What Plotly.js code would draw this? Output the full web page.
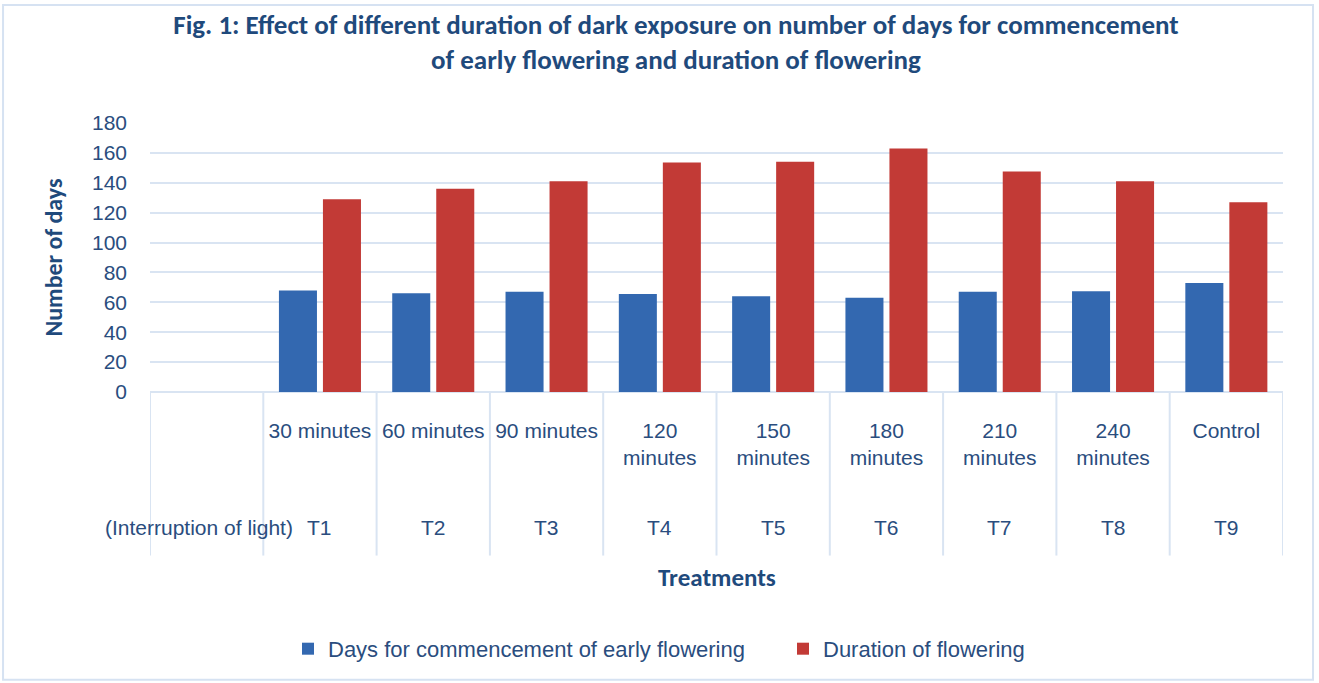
<!DOCTYPE html>
<html>
<head>
<meta charset="utf-8">
<script src="https://cdn.plot.ly/plotly-3.0.1.min.js"></script>
<style>html,body{margin:0;padding:0;background:#fff;}#chart{width:1319px;height:683px;}</style>
</head>
<body>
<div id="chart"></div>
<script>
// Data
var categories = ["", "T1", "T2", "T3", "T4", "T5", "T6", "T7", "T8", "T9"];
var innerLabels = ["", "30 minutes", "60 minutes", "90 minutes", "120<br>minutes", "150<br>minutes", "180<br>minutes", "210<br>minutes", "240<br>minutes", "Control"];
var outerLabels = ["(Interruption of light)", "T1", "T2", "T3", "T4", "T5", "T6", "T7", "T8", "T9"];
var earlyFlowering = [null, 68, 66, 67, 65.5, 64, 63, 67, 67.5, 73];
var durationFlowering = [null, 129, 136, 141, 153.5, 154, 163, 147.5, 141, 127];
var seriesNames = ["Days for commencement of early flowering", "Duration of flowering"];
var yTicks = [0, 20, 40, 60, 80, 100, 120, 140, 160, 180];

var FONT = "'Liberation Sans', Arial, sans-serif";
var BFONT = "Carlito, Lato, sans-serif";
var TXT = "#2a4d7e";
var TTL = "#1f4a7c";
var GRID = "#d9e4f2";

var xIdx = categories.map(function(c, i){ return i; });

var traces = [
  {type: "bar", name: seriesNames[0], x: xIdx, y: earlyFlowering,
   marker: {color: "#3368b0"}},
  {type: "bar", name: seriesNames[1], x: xIdx, y: durationFlowering,
   marker: {color: "#c23a36"}}
];

var annotations = outerLabels.map(function(t, i){
  return {text: t, x: i, xref: "x", y: -0.505, yref: "paper", yanchor: "middle",
          xshift: (i === 0 ? -8 : 0),
          showarrow: false, font: {family: FONT, size: 21, color: TXT}};
});
annotations.push({text: "Treatments", x: 0.5, xref: "paper", y: -0.688, yref: "paper",
  yanchor: "middle", showarrow: false, font: {family: BFONT, size: 25, color: TTL, weight: "bold"}});

var shapes = [];
for (var i = 0; i <= categories.length; i++) {
  shapes.push({type: "line", xref: "x", yref: "paper", x0: i - 0.5, x1: i - 0.5,
    y0: 0, y1: -0.608, line: {color: GRID, width: 2}});
}
shapes.push({type: "rect", xref: "paper", yref: "paper", x0: -0.1297, x1: 1.0265, y0: -1.07, y1: 1.4387,
  line: {color: "#d6e2f2", width: 2}, fillcolor: "rgba(0,0,0,0)", layer: "below"});

var layout = {
  width: 1319, height: 683,
  margin: {l: 150, r: 36, t: 123, b: 291},
  paper_bgcolor: "#ffffff", plot_bgcolor: "#ffffff",
  font: {family: FONT, color: TXT, size: 21},
  title: {text: "Fig. 1: Effect of different duration of dark exposure on number of days for commencement<br>of early flowering and duration of flowering",
    x: 0.5125, xanchor: "center", y: 0.95, yanchor: "top",
    font: {family: BFONT, size: 27, color: TTL, weight: "bold"}},
  barmode: "group", bargap: 0.223, bargroupgap: 0.136,
  xaxis: {type: "linear", range: [-0.5, 9.5], tickmode: "array", tickvals: xIdx, ticktext: innerLabels,
    showgrid: false, zeroline: false, showline: false, ticks: "",
    ticklabelstandoff: 24, tickfont: {family: FONT, size: 21, color: TXT}, fixedrange: true},
  yaxis: {range: [0, 180], tickmode: "array", tickvals: yTicks, showgrid: true, gridcolor: GRID, gridwidth: 2,
    zeroline: true, zerolinecolor: GRID, zerolinewidth: 2, showline: false, ticks: "",
    ticklabelstandoff: 22, tickfont: {family: FONT, size: 21, color: TXT},
    title: {text: "Number of days", standoff: 22, font: {family: BFONT, size: 24, color: TTL, weight: "bold"}}},
  showlegend: true,
  legend: {orientation: "h", x: 0.1218, xanchor: "left", y: -0.955, yanchor: "middle",
    font: {family: FONT, size: 22, color: TXT}, itemwidth: 30, traceorder: "normal",
    entrywidth: 450, entrywidthmode: "pixels"},
  annotations: annotations,
  shapes: shapes
};

Plotly.newPlot("chart", traces, layout, {displayModeBar: false, staticPlot: true});
</script>
</body>
</html>
